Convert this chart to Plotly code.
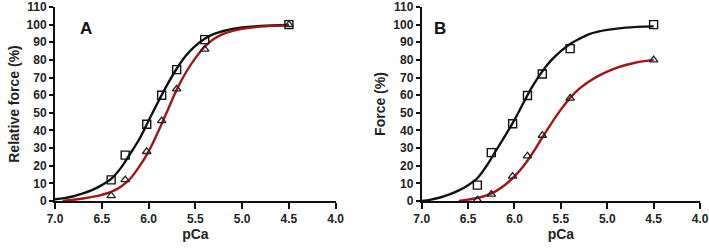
import plotly.graph_objects as go
from plotly.subplots import make_subplots

# measured points
pca_pts = [6.4, 6.25, 6.02, 5.86, 5.7, 5.4, 4.5]
a_square = [12, 26, 43.5, 60, 74.5, 91.5, 100]
a_triangle = [3, 12, 28, 45.5, 63.5, 86, 100]
b_square = [9, 27.4, 43.8, 59.8, 72, 86.4, 100]
b_triangle = [0.5, 3.8, 14, 25.5, 37.2, 58.3, 80]

# fitted curves
a_black_x = [7.0, 6.9, 6.8, 6.7, 6.6, 6.5, 6.4, 6.3, 6.2, 6.1, 6.0, 5.9, 5.8, 5.7, 5.6, 5.5, 5.4, 5.3, 5.2, 5.1, 5.0, 4.8, 4.5]
a_black_y = [1, 1.6, 2.7, 4.3, 6.3, 9, 12.5, 18.5, 26.5, 35, 45.5, 56, 66, 75, 82.5, 88, 92, 94.7, 96.4, 97.6, 98.4, 99.3, 99.8]
a_red_x = [6.92, 6.8, 6.7, 6.6, 6.5, 6.4, 6.3, 6.2, 6.1, 6.0, 5.9, 5.8, 5.7, 5.6, 5.5, 5.4, 5.3, 5.2, 5.1, 5.0, 4.8, 4.5]
a_red_y = [0, 0.7, 1.4, 2.3, 3.5, 5.2, 8, 12.5, 19.5, 28, 39, 51, 63, 73, 81, 87.5, 92, 94.8, 96.5, 97.6, 98.9, 99.6]
b_black_x = [7.0, 6.9, 6.8, 6.7, 6.6, 6.5, 6.4, 6.3, 6.2, 6.1, 6.0, 5.9, 5.8, 5.7, 5.6, 5.5, 5.4, 5.3, 5.2, 5.1, 5.0, 4.8, 4.5]
b_black_y = [0, 0.8, 2, 3.7, 6, 9, 13, 20, 28.5, 37, 46, 56, 65.5, 73.5, 80, 85, 89, 92, 94.5, 96, 97, 98.3, 99]
b_red_x = [6.6, 6.5, 6.4, 6.3, 6.2, 6.1, 6.0, 5.9, 5.8, 5.7, 5.6, 5.5, 5.4, 5.3, 5.2, 5.1, 5.0, 4.9, 4.8, 4.7, 4.6, 4.5]
b_red_y = [0, 0.8, 1.7, 3.2, 5.6, 9.2, 14, 20, 27.5, 36, 44.2, 51.8, 58.5, 63.7, 67.6, 70.8, 73.4, 75.5, 77.1, 78.4, 79.3, 80]

x_ticks = [7.0, 6.5, 6.0, 5.5, 5.0, 4.5, 4.0]
y_ticks = list(range(0, 111, 10))

BLACK = "#111111"
RED = "#a0161a"

fig = make_subplots(rows=1, cols=2)

def add_panel(col, bx, by, rx, ry, sq, tri):
    fig.add_trace(go.Scatter(x=bx, y=by, mode="lines", line=dict(color=BLACK, width=2.4, shape="spline"),
                             showlegend=False, hoverinfo="skip", cliponaxis=False), row=1, col=col)
    fig.add_trace(go.Scatter(x=rx, y=ry, mode="lines", line=dict(color=RED, width=2.4, shape="spline"),
                             showlegend=False, hoverinfo="skip", cliponaxis=False), row=1, col=col)
    fig.add_trace(go.Scatter(x=pca_pts, y=sq, mode="markers", cliponaxis=False,
                             marker=dict(symbol="square-open", size=8, color=BLACK, line=dict(width=1.4)),
                             showlegend=False), row=1, col=col)
    fig.add_trace(go.Scatter(x=pca_pts, y=tri, mode="markers", cliponaxis=False,
                             marker=dict(symbol="triangle-up-open", size=7.5, color="#222222", line=dict(width=1.3)),
                             showlegend=False), row=1, col=col)

add_panel(1, a_black_x, a_black_y, a_red_x, a_red_y, a_square, a_triangle)
add_panel(2, b_black_x, b_black_y, b_red_x, b_red_y, b_square, b_triangle)

tickfont = dict(family="Liberation Sans, Arial", size=12, color="#222222")
titlefont = dict(family="Liberation Sans, Arial", size=14, color="#222222")

axis_common = dict(showgrid=False, zeroline=False, showline=True, linecolor=BLACK, linewidth=2,
                   ticks="outside", ticklen=6, tickwidth=2, tickcolor=BLACK, tickfont=tickfont,
                   automargin=False, ticklabeloverflow="allow")

fig.update_xaxes(range=[7.0, 4.0], tickvals=x_ticks, ticktext=["<b>%.1f</b>" % v for v in x_ticks],
                 title=dict(text="<b>pCa</b>", font=titlefont, standoff=1), **axis_common)
fig.update_yaxes(range=[0, 110], tickvals=y_ticks, ticktext=["<b>%d</b>" % v for v in y_ticks],
                 **axis_common)
fig.update_yaxes(ticklen=4)
fig.update_xaxes(domain=[0.0776, 0.4735], row=1, col=1)
fig.update_xaxes(domain=[0.5948, 0.9873], row=1, col=2)
fig.update_yaxes(domain=[0.1992, 0.9721])
fig.update_yaxes(title=dict(text="<b>Relative force (%)</b>", font=titlefont, standoff=4), row=1, col=1)
fig.update_yaxes(title=dict(text="<b>Force (%)</b>", font=titlefont, standoff=4), row=1, col=2)

fig.add_annotation(text="<b>A</b>", x=78 / 709, y=1 - 17 / 251, xref="paper", yref="paper",
                   showarrow=False, font=dict(family="Liberation Sans, Arial", size=17, color=BLACK))
fig.add_annotation(text="<b>B</b>", x=440 / 709, y=1 - 17 / 251, xref="paper", yref="paper",
                   showarrow=False, font=dict(family="Liberation Sans, Arial", size=17, color=BLACK))

fig.update_layout(width=709, height=251, margin=dict(l=0, r=0, t=0, b=0),
                  plot_bgcolor="white", paper_bgcolor="white")

fig.write_html("out.html", config={"displayModeBar": False},
               post_script="document.body.style.margin='0px';")
